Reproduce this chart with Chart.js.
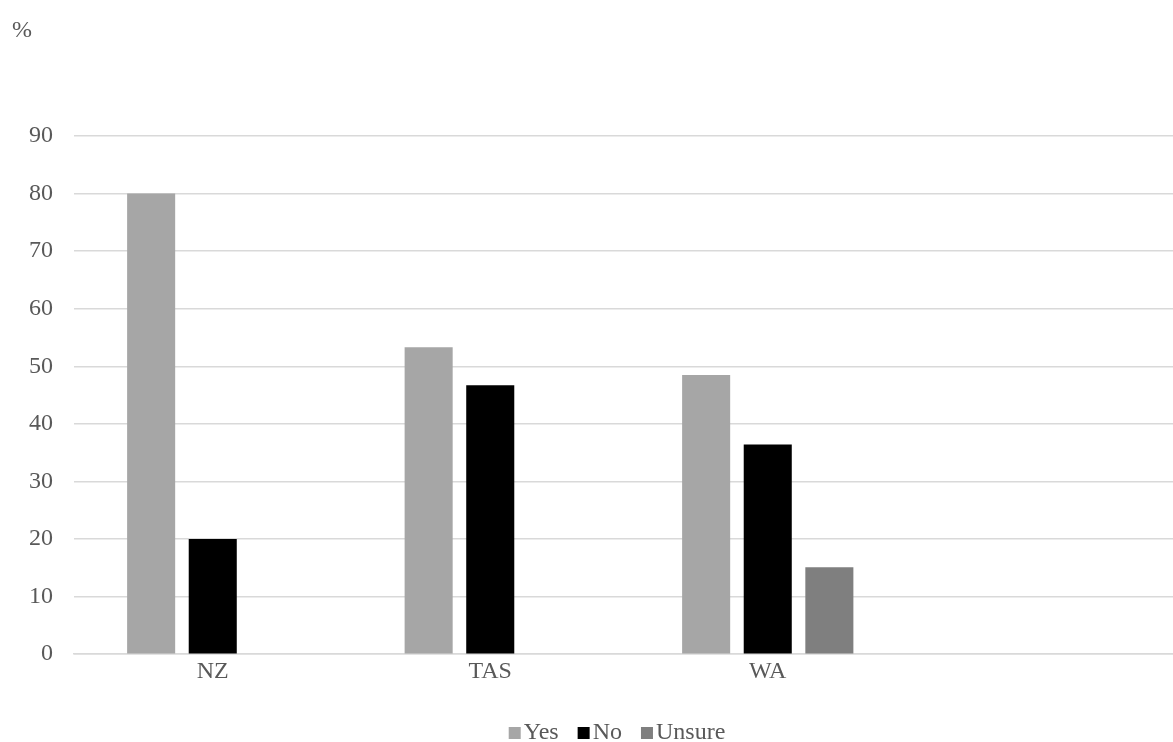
<!DOCTYPE html>
<html>
<head>
<meta charset="utf-8">
<script src="https://cdn.jsdelivr.net/npm/chart.js@4.4.1/dist/chart.umd.min.js"></script>
<style>
  html, body { margin: 0; padding: 0; background: #fff; overflow: hidden; }
  #wrap { width: 1173px; height: 742px; overflow: hidden; position: relative; }
  #box { width: 1234px; height: 742px; position: absolute; left: 0; top: 0; }
</style>
</head>
<body>
<div id="wrap"><div id="box"><canvas id="c"></canvas></div></div>
<script>
// Survey responses by region (percent)
const regions = ['NZ', 'TAS', 'WA', ''];
const yesValues = [80, 53.3, 48.5, null];
const noValues = [20, 46.7, 36.4, null];
const unsureByRegion = [null, null, 15.1, null];
const yTicks = [0, 10, 20, 30, 40, 50, 60, 70, 80, 90];

const FONT = "'Liberation Serif', 'Times New Roman', serif";
const TEXT = '#595959';
const SIZE = 24;

// Unit label in the top-left corner and a compact legend under the axis
const extras = {
  id: 'extras',
  afterDraw(chart) {
    const ctx = chart.ctx;
    ctx.save();
    ctx.font = SIZE + 'px ' + FONT;
    ctx.fillStyle = TEXT;
    ctx.textBaseline = 'middle';
    ctx.textAlign = 'left';
    ctx.fillText('%', 12, 31);

    const items = chart.data.datasets.map(d => ({ label: d.label, color: d.backgroundColor }));
    const box = 12, gapText = 3, gapItem = 19;
    let total = 0;
    items.forEach((it, i) => {
      it.w = ctx.measureText(it.label).width;
      total += box + gapText + it.w + (i < items.length - 1 ? gapItem : 0);
    });
    let x = chart.width / 2 - total / 2;
    const y = 733;
    items.forEach(it => {
      ctx.fillStyle = it.color;
      ctx.fillRect(x, y - box / 2, box, box);
      x += box + gapText;
      ctx.fillStyle = TEXT;
      ctx.fillText(it.label, x, y);
      x += it.w + gapItem;
    });
    ctx.restore();
  }
};

new Chart(document.getElementById('c'), {
  type: 'bar',
  data: {
    labels: regions,
    datasets: [
      { label: 'Yes', data: yesValues, backgroundColor: '#a6a6a6' },
      { label: 'No', data: noValues, backgroundColor: '#000000' },
      { label: 'Unsure', data: unsureByRegion, backgroundColor: '#7f7f7f' }
    ]
  },
  options: {
    responsive: true,
    maintainAspectRatio: false,
    animation: false,
    devicePixelRatio: 1,
    layout: { padding: { top: 136, right: 50, bottom: 53, left: 0 } },
    datasets: { bar: { categoryPercentage: 0.666, barPercentage: 0.78 } },
    plugins: {
      legend: { display: false },
      tooltip: { enabled: false }
    },
    scales: {
      x: {
        grid: { display: false, drawTicks: false },
        border: { display: true, color: '#d9d9d9', width: 1.5 },
        ticks: { color: TEXT, font: { family: FONT, size: SIZE }, padding: 3, maxRotation: 0 }
      },
      y: {
        min: 0,
        max: 90,
        afterBuildTicks(scale) { scale.ticks = yTicks.map(v => ({ value: v })); },
        afterFit(scale) { scale.width = 74; },
        grid: { color: '#d9d9d9', lineWidth: 1.5, drawTicks: false },
        border: { display: false },
        ticks: { color: TEXT, font: { family: FONT, size: SIZE }, padding: 21 }
      }
    }
  },
  plugins: [extras]
});
</script>
</body>
</html>
